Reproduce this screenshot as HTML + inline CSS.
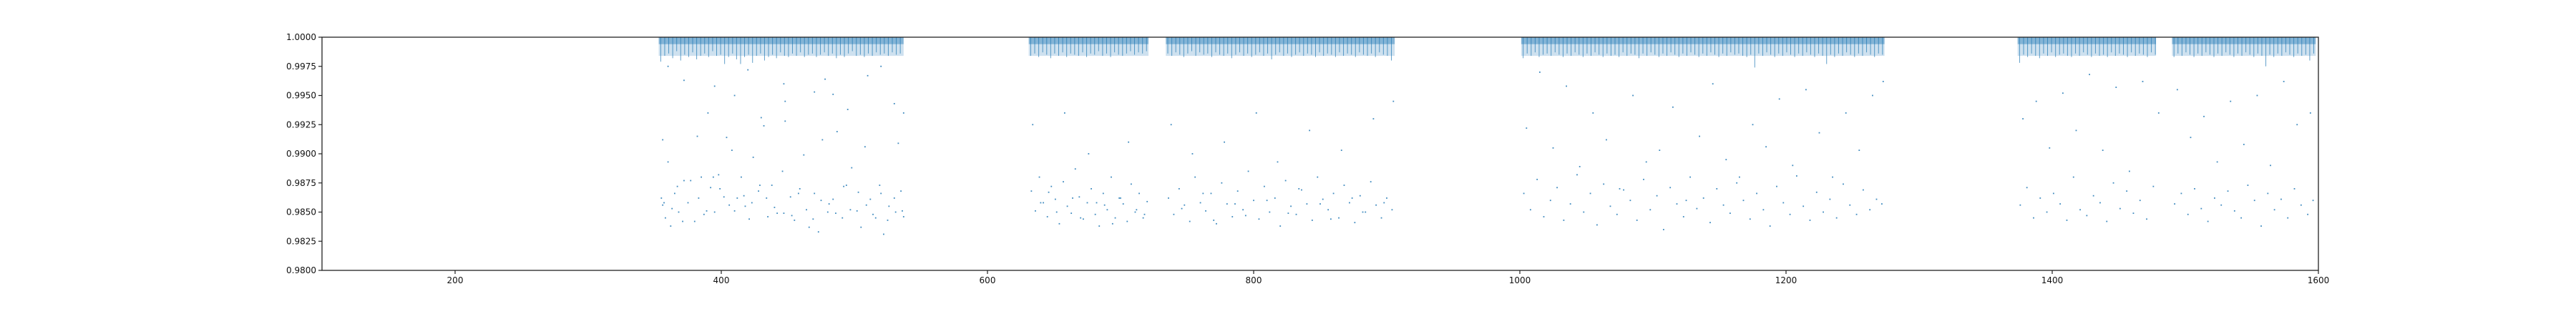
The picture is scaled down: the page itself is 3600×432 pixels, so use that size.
<!DOCTYPE html>
<html><head><meta charset="utf-8">
<style>
html,body{margin:0;padding:0;background:#fff;}
svg{display:block;font-family:"DejaVu Sans","Liberation Sans",sans-serif;}
</style></head>
<body>
<svg id="chart" width="3600" height="432" viewBox="0 0 3600 432" xmlns="http://www.w3.org/2000/svg">
<rect x="0" y="0" width="3600" height="432" fill="#fff"/>
<g id="plot"></g>
<g id="axes"></g>
</svg>
<script>
// ---- data ----
const xTicks = [200,400,600,800,1000,1200,1400,1600];
const yTicks = [0.98,0.9825,0.985,0.9875,0.99,0.9925,0.995,0.9975,1.0];
const yTickLabels = ["0.9800","0.9825","0.9850","0.9875","0.9900","0.9925","0.9950","0.9975","1.0000"];
const segStart = [353,631,734,1001,1374,1490];
const segEnd   = [537,721,906,1274,1478,1598];
const bandFloor = [0.9994,0.9994,0.9994,0.9994,0.9994,0.9994];
const dipStep = 3;
const dips1 = [.9979,.9984,.9986,.9982,.9988,.9980,.9985,.9983,.9987,.9981,.9984,.9986,.9983,.9988,.9984,.9985,.9977,.9983,.9986,.9981,.9977,.9983,.9985,.9978,.9984,.9986,.9980,.9983,.9985,.9982,.9987,.9984,.9983,.9986,.9984,.9987,.9983,.9985,.9986,.9983,.9985,.9987,.9984,.9986,.9982,.9985,.9983,.9986,.9988,.9984,.9985,.9983,.9986,.9984,.9987,.9985,.9986,.9984,.9987,.9985,.9986];
const dips2 = [.9984,.9986,.9983,.9987,.9985,.9982,.9986,.9984,.9987,.9983,.9986,.9985,.9984,.9987,.9983,.9986,.9985,.9988,.9984,.9986,.9983,.9987,.9985,.9984,.9986,.9988,.9985,.9987,.9986,.9988];
const dips3 = [.9986,.9984,.9987,.9985,.9983,.9986,.9988,.9984,.9987,.9985,.9986,.9983,.9987,.9985,.9984,.9986,.9982,.9985,.9987,.9984,.9986,.9983,.9985,.9987,.9984,.9986,.9981,.9985,.9987,.9984,.9986,.9983,.9985,.9987,.9984,.9986,.9985,.9983,.9987,.9984,.9986,.9985,.9983,.9987,.9984,.9986,.9985,.9983,.9987,.9985,.9984,.9986,.9983,.9987,.9985,.9984,.9980];
const dips4 = [.9982,.9986,.9984,.9987,.9983,.9985,.9986,.9984,.9987,.9985,.9983,.9986,.9984,.9987,.9985,.9983,.9986,.9984,.9987,.9985,.9983,.9986,.9984,.9985,.9983,.9987,.9984,.9986,.9985,.9982,.9986,.9984,.9987,.9985,.9983,.9986,.9984,.9987,.9985,.9983,.9986,.9984,.9987,.9985,.9983,.9986,.9984,.9987,.9985,.9983,.9986,.9984,.9987,.9985,.9986,.9984,.9983,.9985,.9974,.9986,.9984,.9987,.9985,.9983,.9986,.9984,.9987,.9985,.9983,.9986,.9984,.9987,.9985,.9983,.9986,.9984,.9977,.9985,.9983,.9986,.9984,.9987,.9985,.9983,.9986,.9984,.9987,.9985,.9983,.9986,.9985];
const dips5 = [.9978,.9985,.9983,.9986,.9984,.9982,.9986,.9984,.9987,.9983,.9985,.9986,.9984,.9983,.9986,.9984,.9987,.9985,.9983,.9986,.9984,.9985,.9983,.9987,.9984,.9986,.9985,.9983,.9987,.9984,.9986,.9985,.9983,.9987,.9985];
const dips6 = [.9983,.9986,.9984,.9987,.9985,.9983,.9986,.9984,.9987,.9985,.9983,.9986,.9984,.9987,.9985,.9983,.9986,.9984,.9987,.9985,.9983,.9986,.9984,.9975,.9985,.9983,.9986,.9984,.9987,.9985,.9983,.9986,.9984,.9985,.9980,.9986];
const dipSets = [dips1,dips2,dips3,dips4,dips5,dips6];

const outT = [355,356,356,358,360,362,365,368,372,375,380,382,385,389,392,395,398,402,404,408,412,415,418,421,424,428,432,435,438,442,446,448,452,455,459,462,466,470,473,476,480,484,487,491,494,498,502,505,508,512,516,519,522,526,530,533,536,537,
357,363,367,371,377,383,387,394,399,406,410,417,423,429,434,440,447,453,458,464,469,475,481,486,492,497,503,509,514,520,525,531,535,
360,372,390,395,410,420,430,447,448,470,478,484,495,510,520,530,537,
633,636,639,642,645,648,651,654,657,660,663,666,669,672,675,678,681,684,687,690,693,696,699,702,705,708,711,714,717,720,634,640,646,652,658,664,670,676,682,688,694,700,706,712,718,
736,740,744,748,752,756,760,764,768,772,776,780,784,788,792,796,800,804,808,812,816,820,824,828,832,836,840,844,848,852,856,860,864,868,872,876,880,884,888,892,896,900,904,738,746,754,762,770,778,786,794,802,810,818,826,834,842,850,858,866,874,882,890,898,905,
1003,1008,1013,1018,1023,1028,1033,1038,1043,1048,1053,1058,1063,1068,1073,1078,1083,1088,1093,1098,1103,1108,1113,1118,1123,1128,1133,1138,1143,1148,1153,1158,1163,1168,1173,1178,1183,1188,1193,1198,1203,1208,1213,1218,1223,1228,1233,1238,1243,1248,1253,1258,1263,1268,1272,
1005,1015,1025,1035,1045,1055,1065,1075,1085,1095,1105,1115,1125,1135,1145,1155,1165,1175,1185,1195,1205,1215,1225,1235,1245,1255,1265,1273,
1376,1381,1386,1391,1396,1401,1406,1411,1416,1421,1426,1431,1436,1441,1446,1451,1456,1461,1466,1471,1476,1492,1497,1502,1507,1512,1517,1522,1527,1532,1537,1542,1547,1552,1557,1562,1567,1572,1577,1582,1587,1592,1596,
1378,1388,1398,1408,1418,1428,1438,1448,1458,1468,1480,1494,1504,1514,1524,1534,1544,1554,1564,1574,1584,1594];
const outF = [.9862,.9856,.9912,.9845,.9893,.9838,.9866,.9850,.9877,.9858,.9842,.9915,.9880,.9851,.9871,.9850,.9882,.9863,.9914,.9903,.9862,.9880,.9855,.9844,.9897,.9868,.9924,.9846,.9873,.9849,.9885,.9928,.9863,.9843,.9870,.9899,.9837,.9866,.9833,.9912,.9850,.9861,.9919,.9845,.9873,.9888,.9851,.9837,.9906,.9861,.9845,.9873,.9831,.9855,.9862,.9909,.9851,.9846,
.9858,.9853,.9872,.9842,.9877,.9862,.9848,.9880,.9870,.9856,.9851,.9864,.9858,.9873,.9862,.9854,.9849,.9847,.9866,.9852,.9844,.9860,.9857,.9849,.9872,.9852,.9867,.9856,.9848,.9866,.9843,.9850,.9868,
.9975,.9963,.9935,.9958,.9950,.9972,.9931,.9960,.9945,.9953,.9964,.9951,.9938,.9967,.9975,.9943,.9935,
.9868,.9851,.9880,.9858,.9846,.9872,.9861,.9840,.9876,.9855,.9849,.9887,.9863,.9844,.9858,.9870,.9848,.9838,.9866,.9852,.9880,.9845,.9862,.9857,.9842,.9874,.9850,.9866,.9845,.9859,.9925,.9858,.9867,.9850,.9935,.9862,.9845,.9900,.9858,.9856,.9840,.9862,.9910,.9852,.9848,
.9862,.9848,.9870,.9856,.9842,.9880,.9858,.9851,.9866,.9840,.9875,.9857,.9846,.9868,.9852,.9885,.9860,.9844,.9872,.9850,.9862,.9838,.9877,.9855,.9848,.9869,.9857,.9843,.9880,.9861,.9852,.9866,.9845,.9873,.9858,.9841,.9864,.9850,.9876,.9856,.9845,.9862,.9852,.9925,.9853,.9900,.9866,.9843,.9910,.9857,.9847,.9935,.9860,.9893,.9849,.9870,.9920,.9857,.9844,.9903,.9862,.9850,.9930,.9858,.9945,
.9866,.9852,.9878,.9846,.9860,.9871,.9843,.9857,.9882,.9850,.9866,.9839,.9874,.9855,.9848,.9869,.9860,.9843,.9878,.9852,.9864,.9835,.9871,.9857,.9846,.9880,.9853,.9862,.9841,.9870,.9856,.9849,.9875,.9860,.9844,.9866,.9852,.9838,.9872,.9858,.9848,.9881,.9855,.9843,.9867,.9850,.9861,.9845,.9874,.9856,.9848,.9869,.9852,.9861,.9857,
.9922,.9970,.9905,.9958,.9889,.9935,.9912,.9870,.9950,.9893,.9903,.9940,.9860,.9915,.9960,.9895,.9880,.9925,.9906,.9947,.9890,.9955,.9918,.9880,.9935,.9903,.9950,.9962,
.9856,.9871,.9845,.9862,.9850,.9866,.9857,.9843,.9880,.9852,.9847,.9864,.9858,.9842,.9875,.9853,.9868,.9849,.9860,.9844,.9872,.9857,.9866,.9848,.9870,.9853,.9842,.9862,.9856,.9868,.9851,.9845,.9873,.9860,.9838,.9866,.9852,.9861,.9845,.9870,.9856,.9848,.9860,
.9930,.9945,.9905,.9952,.9920,.9968,.9903,.9957,.9885,.9962,.9935,.9955,.9914,.9932,.9893,.9945,.9908,.9950,.9890,.9962,.9925,.9935];

// ---- scales ----
const L=450,R=3240,T=52,B=378;
const xMin=100,xMax=1600,yMin=0.98,yMax=1.0;
function xs(v){return L+(v-xMin)/(xMax-xMin)*(R-L);}
function ys(v){return B-(v-yMin)/(yMax-yMin)*(B-T);}
const NS="http://www.w3.org/2000/svg";
const plot=document.getElementById('plot');
const axes=document.getElementById('axes');
const C="#1f77b4";
function mk(tag,attrs,parent){const e=document.createElementNS(NS,tag);for(const k in attrs)e.setAttribute(k,attrs[k]);parent.appendChild(e);return e;}

// bands
for(let s=0;s<segStart.length;s++){
  const x0=xs(segStart[s]),x1=xs(segEnd[s]);
  const b1=mk('rect',{x:x0,y:ys(1.0),width:x1-x0,height:ys(bandFloor[s])-ys(1.0),fill:C,'fill-opacity':0.55},plot);
  
  
  const b2=mk('rect',{x:x0,y:ys(bandFloor[s]),width:x1-x0,height:ys(0.9984)-ys(bandFloor[s]),fill:C,'fill-opacity':0.22},plot);
  
  
  const d=dipSets[s];
  for(let i=0;i<d.length;i++){
    const t=segStart[s]+(i+0.5)*dipStep;
    if(t>segEnd[s])break;
    const ln=mk('line',{x1:xs(t),x2:xs(t),y1:ys(1.0),y2:ys(d[i]),stroke:C,'stroke-width':1,'stroke-opacity':0.7},plot);
    
    
  }
}
// outliers
for(let i=0;i<outT.length;i++){
  const p=mk('rect',{x:xs(outT[i])-0.9,y:ys(outF[i])-0.9,width:1.8,height:1.8,fill:C,'fill-opacity':0.85},plot);
  
  
}
// frame
const fr=mk('rect',{x:L,y:T,width:R-L,height:B-T,fill:'none',stroke:'#222','stroke-width':1.3},axes);


xTicks.forEach(v=>{
  const tk=mk('line',{x1:xs(v),x2:xs(v),y1:B,y2:B+5,stroke:'#222','stroke-width':1.2},axes);
  
  
  const tx=mk('text',{x:xs(v),y:B+18,'text-anchor':'middle','font-size':12,fill:'#111'},axes);
  tx.textContent=String(v);
  
  
});
yTicks.forEach((v,i)=>{
  const tk=mk('line',{x1:L-5,x2:L,y1:ys(v),y2:ys(v),stroke:'#222','stroke-width':1.2},axes);
  
  
  const tx=mk('text',{x:L-8,y:ys(v)+4,'text-anchor':'end','font-size':12,fill:'#111'},axes);
  tx.textContent=yTickLabels[i];
  
  
});
</script>
</body></html>
